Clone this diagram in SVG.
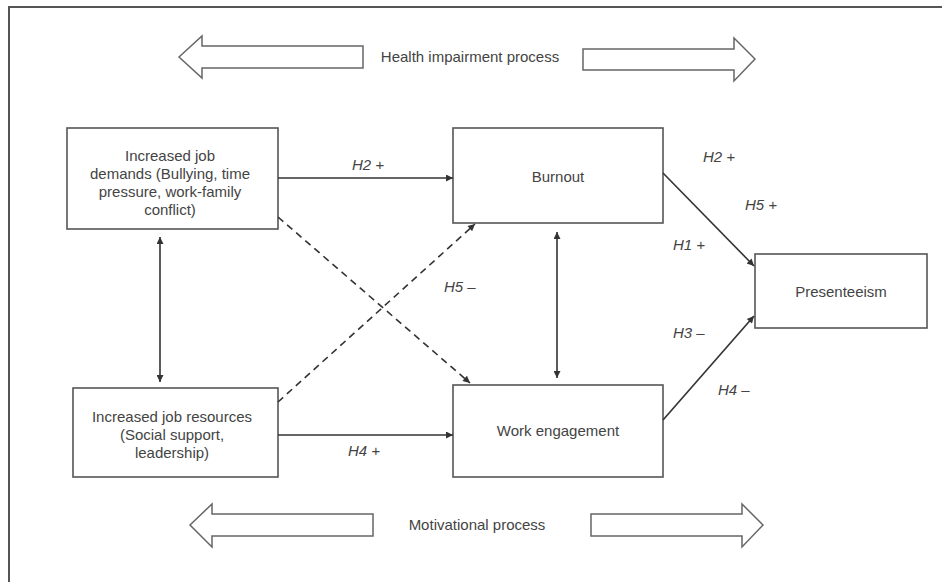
<svg xmlns="http://www.w3.org/2000/svg" width="942" height="582" viewBox="0 0 942 582">
<defs>
<marker id="ah" viewBox="0 0 10 10" refX="10" refY="5" markerWidth="9" markerHeight="7" markerUnits="userSpaceOnUse" orient="auto-start-reverse">
<path d="M0,0 L10,5 L0,10 z" fill="#333"/>
</marker>
<style>
.box{fill:#fff;stroke:#555;stroke-width:1.6}
.t{font-family:"Liberation Sans",Arial,sans-serif;font-size:15px;fill:#444;text-anchor:middle}
.lab{font-family:"Liberation Sans",Arial,sans-serif;font-size:15px;fill:#444;font-style:italic}
.ln{stroke:#333;stroke-width:1.6;fill:none}
.dash{stroke-dasharray:7 5}
.big{fill:#fff;stroke:#666;stroke-width:1.5}
.frame{stroke:#555;stroke-width:2;fill:none}
</style>
</defs>
<rect width="942" height="582" fill="#fff"/>
<path class="frame" d="M9,582 V7 H942"/>

<g id="health-process">
<polygon class="big" points="179,57 202,36 202,46 363,46 363,68 202,68 202,78"/>
<polygon class="big" points="755,59 734,38 734,49 583,49 583,70 734,70 734,81"/>
<text class="t" x="470" y="62">Health impairment process</text>
</g>

<g id="motivational-process">
<polygon class="big" points="190,525 212,504 212,514 373,514 373,536 212,536 212,547"/>
<polygon class="big" points="763,525 742,504 742,514 591,514 591,536 742,536 742,547"/>
<text class="t" x="477" y="530">Motivational process</text>
</g>

<g id="demands">
<rect class="box" x="67" y="128" width="211" height="101"/>
<text class="t" x="170" y="161">Increased job</text>
<text class="t" x="170" y="179">demands (Bullying, time</text>
<text class="t" x="170" y="197">pressure, work-family</text>
<text class="t" x="170" y="215">conflict)</text>
</g>

<g id="resources">
<rect class="box" x="73" y="388" width="205" height="89"/>
<text class="t" x="172" y="422">Increased job resources</text>
<text class="t" x="172" y="440">(Social support,</text>
<text class="t" x="172" y="458">leadership)</text>
</g>

<g id="burnout">
<rect class="box" x="453" y="128" width="210" height="95"/>
<text class="t" x="558" y="182">Burnout</text>
</g>

<g id="engagement">
<rect class="box" x="453" y="385" width="210" height="92"/>
<text class="t" x="558" y="436">Work engagement</text>
</g>

<g id="presenteeism">
<rect class="box" x="755" y="254" width="172" height="74"/>
<text class="t" x="841" y="297">Presenteeism</text>
</g>

<g id="connectors">
<line class="ln" x1="278" y1="178" x2="453" y2="178" marker-end="url(#ah)"/>
<line class="ln" x1="278" y1="435" x2="453" y2="435" marker-end="url(#ah)"/>
<line class="ln" x1="160" y1="237" x2="160" y2="382" marker-start="url(#ah)" marker-end="url(#ah)"/>
<line class="ln" x1="557" y1="232" x2="557" y2="378" marker-start="url(#ah)" marker-end="url(#ah)"/>
<line class="ln dash" x1="278" y1="217" x2="470" y2="383" marker-end="url(#ah)"/>
<line class="ln dash" x1="278" y1="402" x2="475" y2="224" marker-end="url(#ah)"/>
<line class="ln" x1="663" y1="173" x2="754" y2="266" marker-end="url(#ah)"/>
<line class="ln" x1="663" y1="420" x2="754" y2="316" marker-end="url(#ah)"/>
</g>

<g id="labels">
<text class="lab" x="352" y="170">H2 +</text>
<text class="lab" x="348" y="456">H4 +</text>
<text class="lab" x="444" y="292">H5 –</text>
<text class="lab" x="703" y="162">H2 +</text>
<text class="lab" x="745" y="210">H5 +</text>
<text class="lab" x="673" y="250">H1 +</text>
<text class="lab" x="673" y="338">H3 –</text>
<text class="lab" x="718" y="395">H4 –</text>
</g>
</svg>
